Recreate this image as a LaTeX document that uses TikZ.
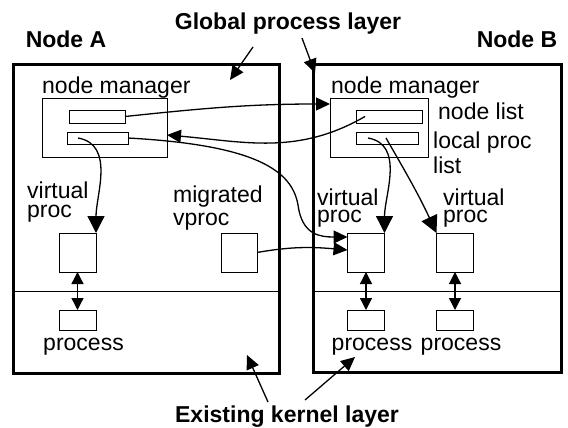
\documentclass[tikz,border=0pt]{standalone}
\usepackage{fontspec}
\setmainfont{Liberation Sans}
\usetikzlibrary{arrows.meta}

\begin{document}
\begin{tikzpicture}[x=1pt,y=-1pt,
	outer/.style={draw, line width=3pt, inner sep=0, outer sep=0},
	box/.style={draw, line width=1pt, inner sep=0, outer sep=0},
	lbl/.style={inner sep=0, anchor=base west, align=left},
	ttl/.style={inner sep=0, anchor=base, font=\bfseries\fontsize{23}{26}\selectfont},
	arr/.style={line width=1.3pt, -{Triangle[length=14pt,width=13pt]}},
	arrbig/.style={line width=1.3pt, -{Triangle[length=17pt,width=17pt]}},
	dbl/.style={line width=1.3pt, {Triangle[length=12pt,width=12pt]}-{Triangle[length=12pt,width=12pt]}},
	every node/.style={font=\fontsize{23}{19}\selectfont}]
	\useasboundingbox (0,0) rectangle (568,428);
	% Outer boxes and layer lines
	\node[outer, minimum width=266pt, minimum height=308pt] (nodeA) at (146,219) {};
	\node[outer, minimum width=248pt, minimum height=307pt] (nodeB) at (437,218.5) {};
	\draw[line width=1pt] (nodeA.west |- 0,291) -- (nodeA.east |- 0,291);
	\draw[line width=1pt] (nodeB.west |- 0,291) -- (nodeB.east |- 0,291);
	% Titles
	\node[ttl] (tA) at (66,48) {Node A};
	\node[ttl] (tB) at (517,48) {Node B};
	\node[ttl] (glob) at (288,30) {Global process layer};
	\node[ttl] (kern) at (287,422) {Existing kernel layer};
	% Node managers
	\node[box, minimum width=125pt, minimum height=58pt] (mgrA) at (104.5,128) {};
	\node[box, minimum width=98pt, minimum height=58pt] (mgrB) at (379,128) {};
	\node[box, minimum width=56pt, minimum height=13pt] (A1) at (97,116.5) {};
	\node[box, minimum width=61pt, minimum height=12pt] (A2) at (97.5,138) {};
	\node[box, minimum width=66pt, minimum height=13pt] (B1) at (389,116.5) {};
	\node[box, minimum width=62pt, minimum height=12pt] (B2) at (387,138) {};
	\node[lbl] (nmA) at (42,94) {node manager};
	\node[lbl] (nmB) at (331,94) {node manager};
	\node[lbl] (nl) at (438,120) {node list};
	\node[lbl, font=\fontsize{23}{25}\selectfont] (lpl) at (433,173) {local proc\\list};
	% Virtual procs and processes
	\foreach \n/\x in {A/77.5, B1/366, B2/455} {
		\node[box, minimum width=37pt, minimum height=39pt] (v\n) at (\x,252.5) {};
		\node[box, minimum width=37pt, minimum height=20pt] (p\n) at (\x,320) {};
		\node[inner sep=0, anchor=base] (l\n) at (\x+6,350) {process};
		\draw[dbl] (v\n) -- (p\n);
	}
	\node[box, minimum width=36pt, minimum height=39pt] (mig) at (239,252.5) {};
	\node[lbl] (vpA) at (27,217) {virtual\\proc};
	\node[lbl, font=\fontsize{23}{23}\selectfont] (mv) at (173,225) {migrated\\vproc};
	\node[lbl, font=\fontsize{23}{17}\selectfont] (vpB1) at (317,222) {virtual\\proc};
	\node[lbl, font=\fontsize{23}{17}\selectfont] (vpB2) at (443,222) {virtual\\proc};
	% Layer arrows
	\coordinate (g1) at (253,47);
	\coordinate (g2) at (230,80);
	\coordinate (g3) at (302,38);
	\coordinate (g4) at (315,73);
	\coordinate (k1) at (268,402);
	\coordinate (k2) at (247,355);
	\coordinate (k3) at (305,400);
	\coordinate (k4) at (355,357);
	\draw[arr] (g1) -- (g2);
	\draw[arr] (g3) -- (g4);
	\draw[arr] (k1) -- (k2);
	\draw[arr] (k3) -- (k4);
	% Connections
	\draw[arr] (A1.east) to[out=6,in=180] ([yshift=24pt]mgrB.west);
	\draw[arr] ([xshift=-24pt]B1.center) to[out=-150,in=-5] ([yshift=-7pt]mgrA.east);
	\draw[arrbig] ([xshift=-19.5pt]A2.center) to[out=-10,in=90] (vA.north east);
	\draw[arrbig] ([xshift=-19pt]B2.center) to[out=-10,in=90] (vB1.north east);
	\draw[arrbig] ([xshift=-1pt]B2.center) to[out=-60,in=115] (vB2.north west);
	\draw[arr] (A2.east) .. controls (255,145) and (292,170) .. (298,205)
		.. controls (302,235) and (320,237) .. ([yshift=15.5pt]vB1.west);
	\draw[arr] (mig.east) to[out=10,in=175] ([yshift=2.5pt]vB1.west);
\end{tikzpicture}
\end{document}
